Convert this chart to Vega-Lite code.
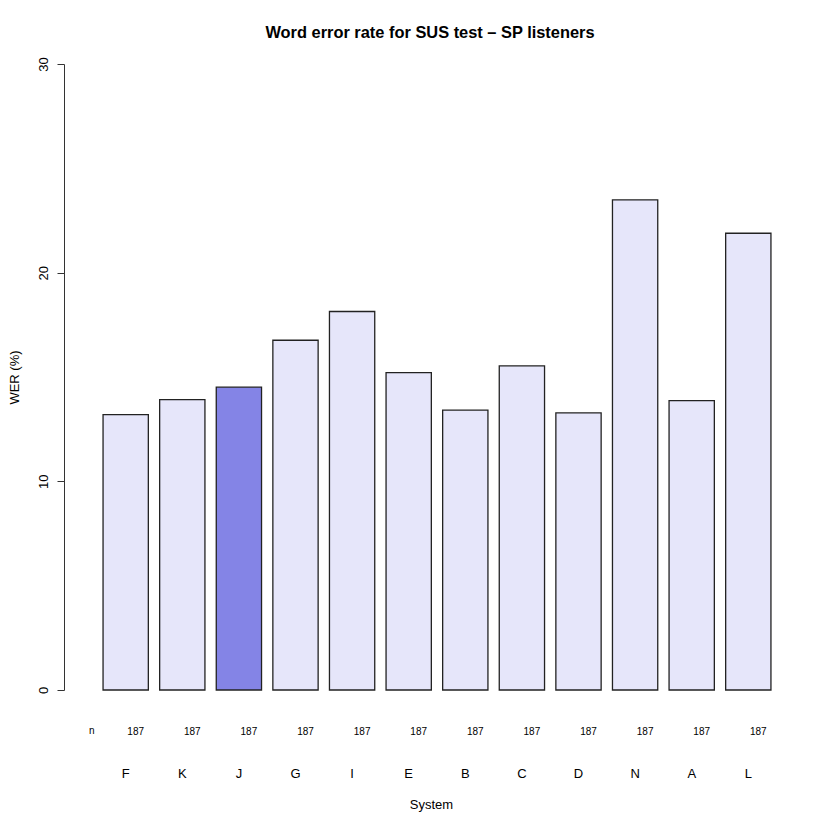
{
  "$schema": "https://vega.github.io/schema/vega-lite/v6.json",
  "width": 746,
  "height": 626,
  "padding": {"left": 64, "top": 64, "right": 20, "bottom": 140},
  "autosize": {"type": "none"},
  "background": "white",
  "config": {"view": {"stroke": null}, "font": "Liberation Sans"},
  "title": {
    "text": "Word error rate for SUS test – SP listeners",
    "font": "Liberation Sans",
    "fontSize": 16.4,
    "fontWeight": "bold",
    "color": "black",
    "anchor": "middle",
    "offset": 15,
    "dx": -7
  },
  "data": {
    "values": [
      {"system": "F", "wer": 13.2, "n": 187, "highlight": "no"},
      {"system": "K", "wer": 13.92, "n": 187, "highlight": "no"},
      {"system": "J", "wer": 14.51, "n": 187, "highlight": "yes"},
      {"system": "G", "wer": 16.76, "n": 187, "highlight": "no"},
      {"system": "I", "wer": 18.14, "n": 187, "highlight": "no"},
      {"system": "E", "wer": 15.21, "n": 187, "highlight": "no"},
      {"system": "B", "wer": 13.41, "n": 187, "highlight": "no"},
      {"system": "C", "wer": 15.53, "n": 187, "highlight": "no"},
      {"system": "D", "wer": 13.28, "n": 187, "highlight": "no"},
      {"system": "N", "wer": 23.49, "n": 187, "highlight": "no"},
      {"system": "A", "wer": 13.87, "n": 187, "highlight": "no"},
      {"system": "L", "wer": 21.89, "n": 187, "highlight": "no"}
    ]
  },
  "encoding": {
    "x": {
      "field": "system",
      "type": "nominal",
      "sort": null,
      "scale": {"paddingInner": 0.2, "paddingOuter": 0.69},
      "axis": {
        "title": "System",
        "titleFont": "Liberation Sans",
        "titleFontSize": 13,
        "titleFontWeight": "normal",
        "titleColor": "black",
        "titlePadding": 18,
        "titleX": 367,
        "labelAngle": 0,
        "labelFont": "Liberation Sans",
        "labelFontSize": 13,
        "labelColor": "black",
        "labelPadding": 77,
        "ticks": false,
        "domain": false,
        "grid": false
      }
    }
  },
  "layer": [
    {
      "mark": {"type": "bar", "stroke": "#222222", "strokeWidth": 1.3},
      "encoding": {
        "y": {
          "field": "wer",
          "type": "quantitative",
          "scale": {"domain": [0, 30], "nice": false},
          "axis": {
            "title": "WER (%)",
            "titleFont": "Liberation Sans",
            "titleFontSize": 13,
            "titleFontWeight": "normal",
            "titleColor": "black",
            "titlePadding": 16,
            "values": [0, 10, 20, 30],
            "labelAngle": -90,
            "labelAlign": "center",
            "labelBaseline": "bottom",
            "labelFont": "Liberation Sans",
            "labelFontSize": 13,
            "labelColor": "black",
            "labelPadding": 7,
            "tickSize": 7,
            "tickColor": "#333333",
            "domainColor": "#333333",
            "grid": false
          }
        },
        "fill": {
          "field": "highlight",
          "type": "nominal",
          "scale": {"domain": ["no", "yes"], "range": ["#E6E6FA", "#8484E6"]},
          "legend": null
        }
      }
    },
    {
      "mark": {"type": "text", "fontSize": 10, "font": "Liberation Sans", "color": "black", "dy": 42, "dx": 10, "baseline": "middle"},
      "encoding": {
        "y": {"datum": 0, "type": "quantitative"},
        "text": {"field": "n", "type": "quantitative"}
      }
    },
    {
      "data": {"values": [{"system": "F", "label": "n"}]},
      "mark": {"type": "text", "fontSize": 10, "font": "Liberation Sans", "color": "black", "dy": 41, "dx": -34, "baseline": "middle"},
      "encoding": {
        "y": {"datum": 0, "type": "quantitative"},
        "text": {"field": "label"}
      }
    }
  ]
}
